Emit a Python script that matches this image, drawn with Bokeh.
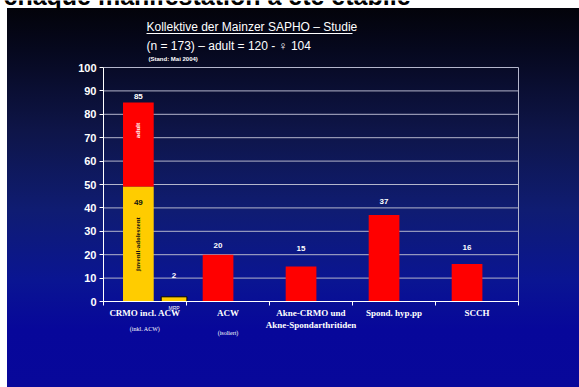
from bokeh.plotting import figure
from bokeh.models import Range1d, FixedTicker, Label, Arrow, ColumnDataSource
from bokeh.core.properties import value
from bokeh.embed import file_html
from bokeh.resources import INLINE

# ---- data ----
categories = ["CRMO incl. ACW", "ACW", "Akne-CRMO und\nAkne-Spondarthritiden", "Spond. hyp.pp", "SCCH"]
sub_labels = ["(inkl. ACW)", "(isoliert)", "", "", ""]
totals = [85, 20, 15, 37, 16]          # red bars (top values)
juvenile = 49                          # yellow part of CRMO bar
mrp = 2                                # small yellow bar next to CRMO
y_ticks = [0, 10, 20, 30, 40, 50, 60, 70, 80, 90, 100]

title1 = "Kollektive der Mainzer SAPHO \u2013 Studie"
title2 = "(n = 173) \u2013 adult = 120 - \u2640 104"
title3 = "(Stand: Mai 2004)"
top_text = "chaque manifestation a \u00e9t\u00e9 \u00e9tablie"

# ---- geometry of the slide (pixels) ----
W, H = 579, 387
ax_left, ax_right, ax_top, ax_bottom = 103, 518, 67, 301
ncat = len(categories)
ymax = y_ticks[-1]
px_x = (ax_right - ax_left) / ncat
px_y = (ax_bottom - ax_top) / ymax
def dx(px):  # canvas px -> data x
    return (px - ax_left) / px_x
def dy(py):  # canvas px -> data y
    return (ax_bottom - py) / px_y

p = figure(width=W, height=H, x_range=Range1d(dx(0), dx(W)), y_range=Range1d(dy(H), dy(0)),
           output_backend="svg", toolbar_location=None,
           min_border_left=0, min_border_right=0, min_border_top=0, min_border_bottom=0,
           background_fill_alpha=0, border_fill_alpha=0, outline_line_color=None)
p.styles = {"background": "linear-gradient(to right, #ffffff 0px, #ffffff 7px, rgba(0,0,0,0) 7px), "
                          "linear-gradient(to bottom, #ffffff 0px, #ffffff 8px, #03030a 8px, #06081e 50px, "
                          "#0e1548 130px, #0f1c72 210px, #0a1592 280px, #07079a 330px, #08089a 387px)"}

# ---- grid (drawn from tick values) ----
p.xgrid.visible = False
p.ygrid.visible = False
p.segment(x0=[0] * len(y_ticks), x1=[ncat] * len(y_ticks), y0=y_ticks, y1=y_ticks,
          line_color="#b4b6cc", line_width=1)
p.segment(x0=[ncat], x1=[ncat], y0=[0], y1=[ymax], line_color="#b4b6cc", line_width=1)

# ---- bars ----
bar_w = 0.37
xs = [i + 0.38 for i in range(ncat)]
xs[0] = 0.42
bottoms = [juvenile if i == 0 else 0 for i in range(ncat)]
label_lift = [-4, -7, -15, -11, -14]   # pixel lift of each value label above its bar

src = ColumnDataSource(dict(x=xs, top=totals, bottom=bottoms, lab=[str(v) for v in totals], lift=label_lift))
p.vbar(x="x", top="top", bottom="bottom", width=bar_w, source=src, fill_color="#ff0000", line_color=None)
p.vbar(x=[xs[0]], top=[juvenile], bottom=[0], width=bar_w, fill_color="#ffcc00", line_color=None)
p.vbar(x=[0.85], top=[mrp], bottom=[0], width=0.31, fill_color="#ffcc00", line_color="#000000", line_width=1)

txt_font = value("Liberation Sans")
p.text(x="x", y="top", text="lab", source=src, y_offset="lift", text_align="center", text_baseline="bottom",
       text_color="white", text_font_size="8px", text_font_style="bold", text_font=txt_font)
p.text(x=[0.85], y=[mrp], text=[str(mrp)], y_offset=-19, text_align="center", text_baseline="bottom",
       text_color="white", text_font_size="8px", text_font_style="bold", text_font=txt_font)
p.text(x=[xs[0]], y=[juvenile], text=[str(juvenile)], y_offset=16, text_align="center", text_baseline="middle",
       text_color="#111111", text_font_size="8px", text_font_style="bold", text_font=txt_font)
p.text(x=[xs[0]], y=[juvenile + (totals[0] - juvenile) * 0.67], text=["adult"], angle=1.5708,
       text_align="center", text_baseline="middle", text_color="white", text_font_size="7px",
       text_font_style="bold", text_font=value("Liberation Serif"))
p.text(x=[xs[0]], y=[juvenile * 0.5], text=["juvenil-adoleszent"], angle=1.5708,
       text_align="center", text_baseline="middle", text_color="#111111", text_font_size="7px",
       text_font_style="bold", text_font=value("Liberation Serif"))

# ---- axes (placed at data 0) ----
p.yaxis.fixed_location = 0
p.yaxis.bounds = (0, ymax)
p.yaxis.ticker = FixedTicker(ticks=y_ticks)
p.yaxis.axis_line_color = "white"
p.yaxis.major_tick_line_color = "white"
p.yaxis.major_tick_out = 4
p.yaxis.major_tick_in = 0
p.yaxis.minor_tick_line_color = None
p.yaxis.major_label_standoff = 3
p.yaxis.major_label_text_color = "white"
p.yaxis.major_label_text_font = "Liberation Sans"
p.yaxis.major_label_text_font_style = "bold"
p.yaxis.major_label_text_font_size = "11px"

p.xaxis.fixed_location = 0
p.xaxis.bounds = (0, ncat)
p.xaxis.ticker = FixedTicker(ticks=[i + 0.5 for i in range(ncat)], minor_ticks=list(range(ncat + 1)))
p.xaxis.major_label_overrides = {i + 0.5: c for i, c in enumerate(categories)}
p.xaxis.axis_line_color = "white"
p.xaxis.major_tick_line_color = None
p.xaxis.major_tick_out = 0
p.xaxis.major_tick_in = 0
p.xaxis.minor_tick_line_color = "white"
p.xaxis.minor_tick_out = 4
p.xaxis.minor_tick_in = 0
p.xaxis.major_label_standoff = 2
p.xaxis.major_label_text_color = "white"
p.xaxis.major_label_text_font = "Liberation Serif"
p.xaxis.major_label_text_font_style = "bold"
p.xaxis.major_label_text_font_size = "9px"

def lab(x, y, text, size, color="white", font="Liberation Sans", style="normal",
        align="left", baseline="middle"):
    p.add_layout(Label(x=x, y=y, text=text, text_align=align, text_baseline=baseline,
                       text_color=color, text_font_size=size, text_font=font, text_font_style=style))

for i, s in enumerate(sub_labels):
    if s:
        lab(i + 0.5, dy(328 + 4 * i), s, "6px", font="Liberation Serif", align="center")
lab(0.85, dy(307), "MRP", "5px", align="center")

# ---- titles ----
tfont = "Liberation Sans, DejaVu Sans"
lab(dx(146), dy(26), title1, "12px", font=tfont)
p.add_layout(Arrow(x_start=dx(146), y_start=dy(33), x_end=dx(352), y_end=dy(33), end=None,
                   line_color="white", line_width=1))
lab(dx(146), dy(45), title2, "12px", font=tfont)
lab(dx(148), dy(58), title3, "6px", style="bold")
lab(dx(3), dy(-5), top_text, "25px", color="black", style="bold", baseline="alphabetic")

open("out.html", "w").write(file_html(p, INLINE))
